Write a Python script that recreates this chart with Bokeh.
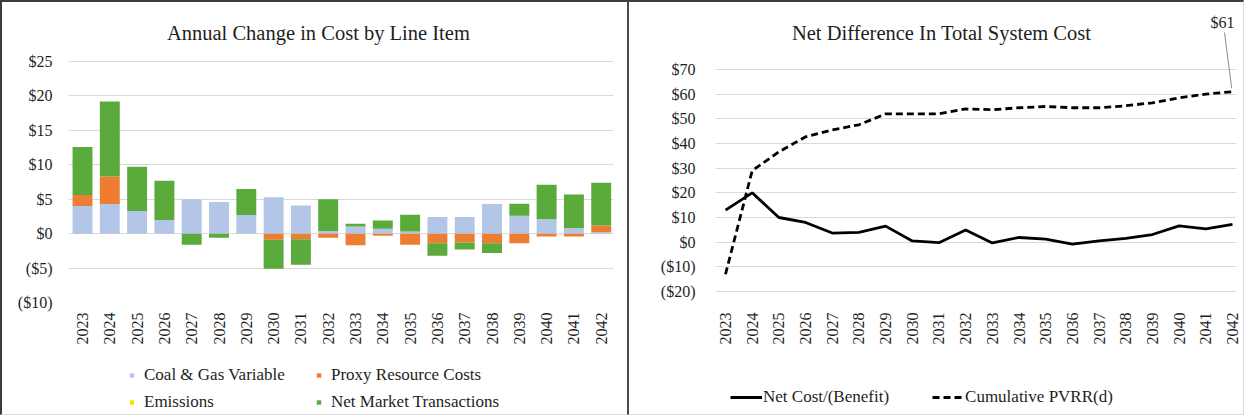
import numpy as np
from bokeh.plotting import figure
from bokeh.layouts import row, column
from bokeh.models import (Legend, LegendItem, FixedTicker, CustomJSTickFormatter,
                          Range1d, Label, Arrow, ColumnDataSource)
from bokeh.embed import file_html
from bokeh.resources import INLINE

years = list(range(2023, 2043))

# Left chart: annual change in cost by line item ($M)
coal_gas = [4.0, 4.3, 3.3, 2.0, 5.0, 4.6, 2.7, 5.3, 4.1, 0.4, 1.05, 0.7, 0.3, 2.4, 2.4, 4.3, 2.6, 2.1, 0.8, 0.2]
proxy = [1.6, 4.0, 0.0, 0.0, 0.0, 0.0, 0.0, -0.9, -0.8, -0.6, -1.7, -0.3, -1.6, -1.4, -1.3, -1.4, -1.4, -0.4, -0.4, 1.0]
emissions = [0.0] * 20
net_market = [7.0, 10.9, 6.4, 5.7, -1.6, -0.6, 3.8, -4.2, -3.7, 4.6, 0.4, 1.2, 2.45, -1.8, -1.0, -1.4, 1.75, 5.0, 4.9, 6.2]
series_names = ["Coal & Gas Variable", "Proxy Resource Costs", "Emissions", "Net Market Transactions"]
series_colors = ["#B4C6E7", "#ED7D31", "#E8E800", "#5BAA3C"]
left_ticks = [-10, -5, 0, 5, 10, 15, 20, 25]

# Right chart: net difference in total system cost ($M)
net_cost = [13.0, 20.0, 10.0, 8.0, 3.7, 4.0, 6.5, 0.5, -0.2, 4.9, -0.3, 1.9, 1.2, -0.8, 0.5, 1.5, 3.1, 6.6, 5.4, 7.2]
cum_pvrr = [-13.0, 29.0, 36.6, 42.7, 45.5, 47.6, 52.0, 52.0, 52.0, 54.0, 53.7, 54.5, 55.0, 54.5, 54.5, 55.3, 56.5, 58.5, 60.0, 61.0]
line_names = ["Net Cost/(Benefit)", "Cumulative PVRR(d)"]
right_ticks = [-20, -10, 0, 10, 20, 30, 40, 50, 60, 70]

FONT = "Times New Roman"
TXT = "#1E1E1E"
GRID = "#D9D9D9"
H_MAIN, H_LEG = 358, 54


def style(p, yticks, ystandoff):
    p.outline_line_color = None
    p.xgrid.grid_line_color = None
    yg = p.ygrid[0]
    yg.grid_line_color = GRID
    yg.ticker = FixedTicker(ticks=yticks)
    xa, ya = p.xaxis[0], p.yaxis[0]
    ya.ticker = FixedTicker(ticks=yticks)
    xa.ticker = FixedTicker(ticks=years)
    ya.formatter = CustomJSTickFormatter(code="return tick < 0 ? '($' + Math.abs(tick) + ')' : '$' + tick;")
    xa.formatter = CustomJSTickFormatter(code="return String(tick);")
    xa.major_label_orientation = np.pi / 2
    for ax in (xa, ya):
        ax.axis_line_color = None
        ax.major_tick_line_color = None
        ax.minor_tick_line_color = None
        ax.major_tick_in = 0
        ax.major_tick_out = 0
        ax.major_label_text_font = FONT
        ax.major_label_text_font_size = "16px"
        ax.major_label_text_color = TXT
    ya.major_label_standoff = ystandoff
    xa.major_label_standoff = 10


def legend_fig(width, left, right):
    q = figure(width=width, height=H_LEG, output_backend="svg", toolbar_location=None,
               x_axis_location=None, y_axis_location=None,
               x_range=Range1d(0, 1), y_range=Range1d(0, 1),
               min_border_left=left, min_border_right=right, min_border_top=0, min_border_bottom=0)
    q.outline_line_color = None
    q.grid.grid_line_color = None
    return q


# ---------- left figure ----------
p1 = figure(width=625, height=H_MAIN, output_backend="svg", toolbar_location=None,
            x_range=Range1d(2022.487, 2042.45), y_range=Range1d(-10, 32.41),
            min_border_left=66, min_border_right=14, min_border_top=8, min_border_bottom=58)
style(p1, left_ticks, 16)

pos_base = np.zeros(len(years))
neg_base = np.zeros(len(years))
for name, vals, col in zip(series_names, [coal_gas, proxy, emissions, net_market], series_colors):
    v = np.array(vals, dtype=float)
    pos = np.where(v > 0, v, 0.0)
    neg = np.where(v < 0, v, 0.0)
    bottom = np.where(v >= 0, pos_base, neg_base + neg)
    top = np.where(v >= 0, pos_base + pos, neg_base)
    src = ColumnDataSource(dict(x=years, top=top, bottom=bottom))
    p1.vbar(x="x", top="top", bottom="bottom", width=0.73, source=src,
            fill_color=col, line_color=None)
    pos_base = pos_base + pos
    neg_base = neg_base + neg

p1.add_layout(Label(x=2031.64, y=29.2, text="Annual Change in Cost by Line Item",
                    text_font=FONT, text_font_size="20.5px", text_color=TXT,
                    text_align="center", text_baseline="middle"))

# legend strip (proxy renderers sit outside the visible range; only their legend swatches show)
q1 = legend_fig(625, 66, 14)
items1 = []
for name, col in zip(series_names, series_colors):
    r = q1.scatter(x=[5], y=[5], marker="square", fill_color=col, line_color=None)
    items1.append(LegendItem(label=name, renderers=[r]))
leg1 = Legend(items=items1, orientation="horizontal", ncols=2, location=(58, 2),
              label_text_font=FONT, label_text_font_size="17px", label_text_color=TXT,
              glyph_width=11, glyph_height=18, label_height=20, label_width=162,
              label_standoff=7, spacing=7,
              padding=0, margin=0, border_line_color=None, background_fill_alpha=0)
q1.add_layout(leg1, "center")

# ---------- right figure ----------
p2 = figure(width=614, height=H_MAIN, output_backend="svg", toolbar_location=None,
            x_range=Range1d(2022.625, 2042.15), y_range=Range1d(-24.46, 93.92),
            min_border_left=86, min_border_right=7, min_border_top=8, min_border_bottom=58)
style(p2, right_ticks, 20)

src2 = ColumnDataSource(dict(x=years, net=net_cost, pvrr=cum_pvrr))
p2.line("x", "net", source=src2, line_color="#000000", line_width=2.8)
p2.line("x", "pvrr", source=src2, line_color="#000000", line_width=2.8, line_dash="7 4")

p2.add_layout(Label(x=2031.1, y=85.0, text="Net Difference In Total System Cost",
                    text_font=FONT, text_font_size="20.5px", text_color=TXT,
                    text_align="center", text_baseline="middle"))

last_x, last_y = years[-1], cum_pvrr[-1]
p2.add_layout(Arrow(end=None, x_start=last_x - 0.3, y_start=last_y + 24,
                    x_end=last_x - 0.03, y_end=last_y + 1.4, line_color="#8C8C8C", line_width=1))
p2.add_layout(Label(x=last_x - 0.37, y=last_y + 28, text=f"${last_y:.0f}",
                    text_font=FONT, text_font_size="16px", text_color=TXT,
                    text_align="center", text_baseline="middle"))

q2 = legend_fig(614, 86, 7)
items2 = []
for name, dash in zip(line_names, ["solid", "7 4"]):
    r = q2.line(x=[5, 6], y=[5, 5], line_color="#000000", line_width=2.8, line_dash=dash)
    items2.append(LegendItem(label=name, renderers=[r]))
leg2 = Legend(items=items2, orientation="horizontal", location=(15, 7),
              label_text_font=FONT, label_text_font_size="17px", label_text_color=TXT,
              glyph_width=32, glyph_height=20, label_height=20,
              label_standoff=1, spacing=43,
              padding=0, margin=0, border_line_color=None, background_fill_alpha=0)
q2.add_layout(leg2, "center")

left_col = column(p1, q1, styles={"border-left": "2px solid #3C3C3C", "border-top": "2px solid #3C3C3C",
                                  "border-right": "2px solid #4A4A4A", "border-bottom": "1px solid #DDDDDD"})
right_col = column(p2, q2, styles={"border-top": "2px solid #3C3C3C", "border-bottom": "1px solid #DDDDDD",
                                   "border-right": "1px solid #DDDDDD"})
layout = row(left_col, right_col)
open("out.html", "w").write(file_html(layout, INLINE))
